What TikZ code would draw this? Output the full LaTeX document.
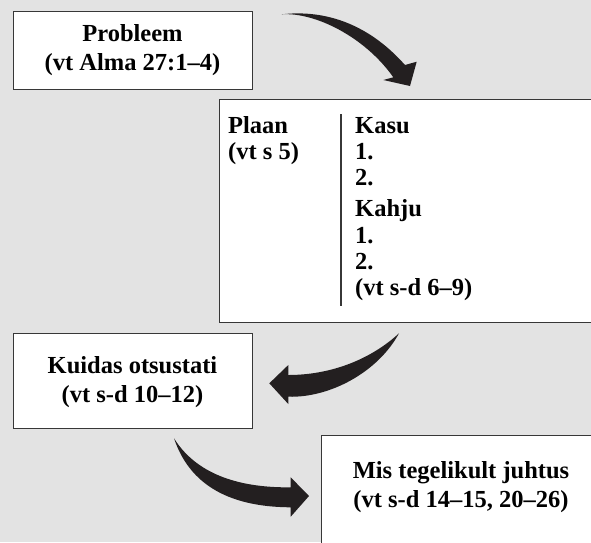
\documentclass[tikz,border=0pt]{standalone}
\usepackage{fontspec}
\setmainfont{Liberation Serif}
\definecolor{bg}{RGB}{227,227,227}
\definecolor{ink}{RGB}{35,31,32}
\definecolor{frame}{RGB}{55,55,55}
\begin{document}
\begin{tikzpicture}[x=1pt,y=-1pt,
  box/.style={draw=frame, line width=1.2pt, fill=white, inner sep=0pt},
  lbl/.style={font=\fontsize{24.5}{29}\selectfont\bfseries, anchor=base, inner sep=0pt},
  lbll/.style={lbl, anchor=base west},
  bigarrow/.style={fill=ink, draw=none}]
\useasboundingbox (0,0) rectangle (591,542);
\clip (0,0) rectangle (591,542);
\fill[bg] (0,0) rectangle (591,542);
% boxes
\node[box, anchor=north west, minimum width=239pt, minimum height=78pt] (prob) at (13,11) {};
\node[box, anchor=north west, minimum width=390pt, minimum height=223pt] (plan) at (219,99) {};
\node[box, anchor=north west, minimum width=239pt, minimum height=95pt] (kuid) at (13,333) {};
\node[box, anchor=north west, minimum width=300pt, minimum height=130pt] (mis) at (321,435) {};
% texts
\node[lbl] (t1a) at (132.5,41) {Probleem};
\node[lbl] (t1b) at (132.5,70) {(vt Alma 27:1–4)};
\node[lbll] (p1) at (228,133) {Plaan};
\node[lbll] (p2) at (228,159) {(vt s 5)};
\node[lbll] (k1) at (355,133) {Kasu};
\node[lbll] (k2) at (355,159) {1.};
\node[lbll] (k3) at (355,185) {2.};
\node[lbll] (h1) at (355,216) {Kahju};
\node[lbll] (h2) at (355,243) {1.};
\node[lbll] (h3) at (355,269) {2.};
\node[lbll] (h4) at (355,295) {(vt s-d 6–9)};
\draw[frame, line width=1.2pt] (341,114) -- (341,306);
\node[lbl] (t3a) at (132.5,373) {Kuidas otsustati};
\node[lbl] (t3b) at (132.5,402) {(vt s-d 10–12)};
\node[lbl] (t4a) at (461,478) {Mis tegelikult juhtus};
\node[lbl] (t4b) at (461,507) {(vt s-d 14–15, 20–26)};
% arrows
\fill[bigarrow] (281.7,14.3) .. controls (320,10) and (365,20) .. (405,65)
  -- (416.7,61.7) -- (410,86) -- (383.3,80) -- (393.3,77.3)
  .. controls (365,37) and (315,12) .. (281.7,14.3) -- cycle;
\fill[bigarrow] (399,333.3) .. controls (370,360) and (330,375) .. (288.3,375)
  -- (288.3,365) -- (269.3,383.3) -- (288.3,404) -- (288.3,396.7)
  .. controls (330,398) and (378,372) .. (399,333.3) -- cycle;
\fill[bigarrow] (174,438.3) .. controls (195,472) and (235,488) .. (290.7,487.3)
  -- (290.7,477.3) -- (309,496) -- (290.7,516.7) -- (290.7,507.3)
  .. controls (240,507) and (192,492) .. (174,438.3) -- cycle;
\end{tikzpicture}
\end{document}
